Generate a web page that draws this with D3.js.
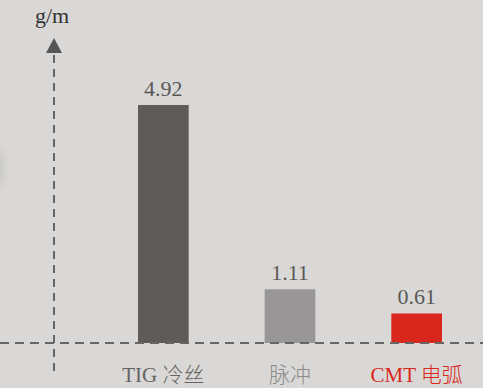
<!DOCTYPE html>
<html>
<head>
<meta charset="utf-8">
<script src="https://cdn.jsdelivr.net/npm/d3@7/dist/d3.min.js"></script>
<style>
  html, body { margin: 0; padding: 0; background: #d9d8d6; }
  svg { display: block; }
</style>
</head>
<body>
<svg id="chart" width="483" height="388"></svg>
<script>
// Wire consumption per process (g/m)
const categories = ["TIG 冷丝", "脉冲", "CMT 电弧"];
const values = [4.92, 1.11, 0.61];
const barColors = ["#5f5b59", "#989696", "#d9271d"];
const labelColors = ["#666463", "#8c8a89", "#d9271d"];
const unitLabel = "g/m";

const W = 483, H = 388;
const baseY = 343;
const axisX = 54;
const serif = "'Liberation Serif', 'Times New Roman', serif";
const cjk = "'Noto Sans CJK SC', sans-serif";

const svg = d3.select("#chart");

// faint soft shadow at the left edge
const defs = svg.append("defs");
defs.append("filter").attr("id", "soft")
  .attr("x", "-100%").attr("y", "-100%").attr("width", "300%").attr("height", "300%")
  .append("feGaussianBlur").attr("stdDeviation", 4);
svg.append("ellipse")
  .attr("cx", -3).attr("cy", 168).attr("rx", 6).attr("ry", 20)
  .attr("fill", "#b0aeac").attr("opacity", 0.45)
  .attr("filter", "url(#soft)");

const x = d3.scaleBand()
  .domain(categories)
  .range([100, 480])
  .paddingInner(0.6)
  .paddingOuter(0.3);

const y = d3.scaleLinear()
  .domain([0, 4.92])
  .range([baseY, 105]);

// bars
svg.selectAll("rect.bar")
  .data(values)
  .enter().append("rect")
  .attr("class", "bar")
  .attr("x", (d, i) => x(categories[i]))
  .attr("y", d => y(d))
  .attr("width", x.bandwidth())
  .attr("height", d => y(0) - y(d))
  .attr("fill", (d, i) => barColors[i]);

// value labels
svg.selectAll("text.val")
  .data(values)
  .enter().append("text")
  .attr("class", "val")
  .attr("x", (d, i) => x(categories[i]) + x.bandwidth() / 2)
  .attr("y", d => y(d) - 9)
  .attr("text-anchor", "middle")
  .attr("font-family", serif)
  .attr("font-size", 22)
  .attr("fill", "#5a5857")
  .text(d => d.toFixed(2));

// horizontal dashed baseline
svg.append("line")
  .attr("x1", 0).attr("x2", W)
  .attr("y1", baseY).attr("y2", baseY)
  .attr("stroke", "#666")
  .attr("stroke-width", 2)
  .attr("stroke-dasharray", "9,6");

// vertical dashed axis
svg.append("line")
  .attr("x1", axisX).attr("x2", axisX)
  .attr("y1", 55).attr("y2", 375)
  .attr("stroke", "#666")
  .attr("stroke-width", 2)
  .attr("stroke-dasharray", "8,6");

// arrow head
svg.append("path")
  .attr("d", d3.line()([[axisX, 38], [axisX - 8, 53], [axisX + 8, 53]]) + "Z")
  .attr("fill", "#555");

// unit label
svg.append("text")
  .attr("x", 52).attr("y", 23)
  .attr("text-anchor", "middle")
  .attr("font-family", serif)
  .attr("font-size", 22)
  .attr("fill", "#333")
  .text(unitLabel);

// category labels (Latin part serif, CJK part sans)
categories.forEach((c, i) => {
  const t = svg.append("text")
    .attr("x", x(c) + x.bandwidth() / 2)
    .attr("y", 382)
    .attr("text-anchor", "middle")
    .attr("font-size", 21)
    .attr("fill", labelColors[i]);
  const parts = c.split(" ");
  if (parts.length > 1) {
    t.append("tspan").attr("font-family", serif).text(parts[0] + " ");
    t.append("tspan").attr("font-family", cjk).attr("font-weight", 300).text(parts.slice(1).join(" "));
  } else {
    t.append("tspan").attr("font-family", cjk).attr("font-weight", 300).text(c);
  }
});
</script>
</body>
</html>
